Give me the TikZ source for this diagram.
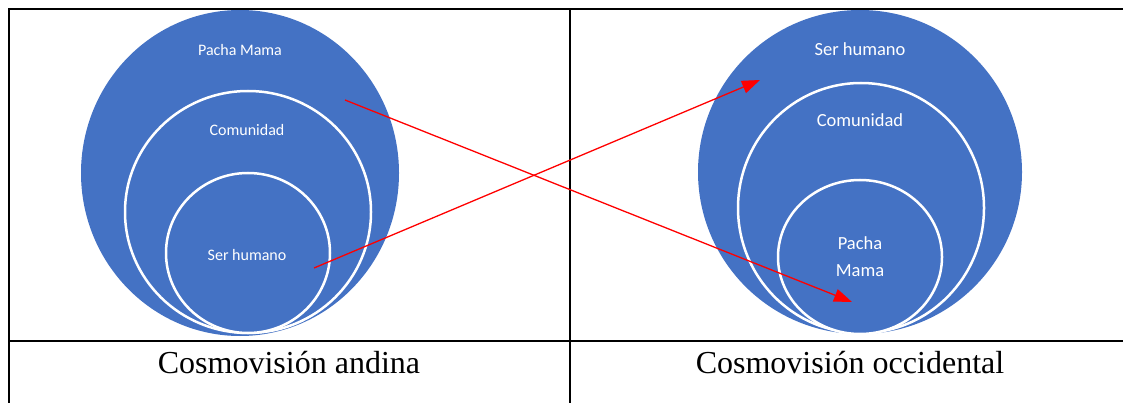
\documentclass[tikz,border=0pt]{standalone}
\usepackage{fontspec}
\setmainfont{Liberation Serif}
\newfontfamily\circfont{Carlito}
\usepackage{tikz}
\usetikzlibrary{arrows.meta}
\definecolor{circblue}{HTML}{4472C4}
\definecolor{arrowred}{HTML}{FF0000}

\begin{document}
\begin{tikzpicture}[x=1pt,y=-1pt,
    ring/.style={fill=circblue,draw=white,line width=2.5pt},
    lblsmall/.style={text=white,font=\circfont\fontsize{16}{20}\selectfont},
    lblbig/.style={text=white,font=\circfont\fontsize{18.5}{27}\selectfont,align=center},
    cross/.style={arrowred,line width=1.3pt,-{Triangle[length=18pt,width=13pt]}}]
  \useasboundingbox (0,0) rectangle (1123,403);
  \fill[circblue] (240,173) ellipse [x radius=159pt, y radius=163pt];
  \draw[ring] (248,212) ellipse [x radius=123pt, y radius=121pt];
  \draw[ring] (248,253) ellipse [x radius=82pt, y radius=80pt];
  \fill[circblue] (860,172) ellipse [x radius=162pt, y radius=162pt];
  \draw[ring] (861,208) ellipse [x radius=123pt, y radius=125pt];
  \draw[ring] (860,257) ellipse [x radius=82pt, y radius=77pt];
  \node[lblsmall] (pacha1) at (240,50) {Pacha Mama};
  \node[lblsmall] (comu1) at (247,130) {Comunidad};
  \node[lblsmall] (ser1) at (247,255) {Ser humano};
  \node[lblbig] (ser2) at (860,49) {Ser humano};
  \node[lblbig] (comu2) at (860,120) {Comunidad};
  \node[lblbig] (pacha2) at (860,257) {Pacha\\Mama};
  \draw[line width=2pt] (8,9) -- (1123,9);
  \draw[line width=2pt] (8,341) -- (1123,341);
  \draw[line width=2pt] (9,9) -- (9,403);
  \draw[line width=2pt] (570,9) -- (570,403);
  \node[font=\fontsize{32}{36}\selectfont,anchor=base] (andina) at (289,373) {Cosmovisión andina};
  \node[font=\fontsize{32}{36}\selectfont,anchor=base] (occid) at (850,373) {Cosmovisión occidental};
  \coordinate (from1) at (345,100);
  \coordinate (to1) at (852,302);
  \coordinate (from2) at (314,268);
  \coordinate (to2) at (760,80);
  \draw[cross] (from1) -- (to1);
  \draw[cross] (from2) -- (to2);
\end{tikzpicture}
\end{document}
